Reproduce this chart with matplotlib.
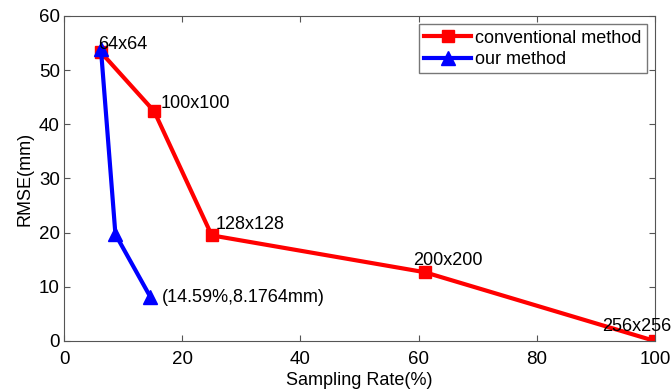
import matplotlib.pyplot as plt

plt.rcParams['font.family'] = ['Liberation Sans', 'DejaVu Sans']

# conventional method: full sampling at each resolution
conv_rate = [6.25, 15.26, 25.0, 61.04, 100.0]
conv_rmse = [53.3, 42.4, 19.5, 12.7, 0.0]
conv_labels = ['64x64', '100x100', '128x128', '200x200', '256x256']

# our method
our_rate = [6.25, 8.7, 14.59]
our_rmse = [53.9, 19.7, 8.1764]

fig = plt.figure(figsize=(6.71, 3.89), dpi=100)
ax = fig.add_axes([0.0954, 0.1234, 0.8806, 0.8355])

ax.plot(conv_rate, conv_rmse, color='red', lw=3, marker='s', ms=8,
        label='conventional method')
ax.plot(our_rate, our_rmse, color='blue', lw=3, marker='^', ms=10,
        label='our method')

# label offsets in pixels (dx, dy)
offs = [(-3, 8), (6, 8), (4, 11), (-12, 12), (-53, 14)]
for x, y, s, o in zip(conv_rate, conv_rmse, conv_labels, offs):
    ax.annotate(s, (x, y), xytext=o, textcoords='offset pixels',
                fontsize=13, va='center', ha='left')
ax.annotate('(%.2f%%,%.4fmm)' % (our_rate[-1], our_rmse[-1]),
            (our_rate[-1], our_rmse[-1]), xytext=(12, -1),
            textcoords='offset pixels', fontsize=13, va='center', ha='left')

ax.set_xlim(0, 100)
ax.set_ylim(0, 60)
ax.set_xticks([0, 20, 40, 60, 80, 100])
ax.set_yticks([0, 10, 20, 30, 40, 50, 60])
ax.tick_params(direction='in', top=True, right=True, labelsize=13.5,
               color='#555555', length=4, pad=3)
ax.tick_params(axis='x', pad=7)
for sp in ax.spines.values():
    sp.set_color('#555555')
ax.set_xlabel('Sampling Rate(%)', fontsize=13, labelpad=3)
ax.set_ylabel('RMSE(mm)', fontsize=13, labelpad=4)

leg = ax.legend(loc='upper right', fontsize=13, borderpad=0.3,
                handlelength=2.6, handletextpad=0.2, labelspacing=0.25,
                fancybox=False, borderaxespad=0.45)
leg.get_frame().set_edgecolor('#555555')

fig.savefig('out.png', dpi=100)
